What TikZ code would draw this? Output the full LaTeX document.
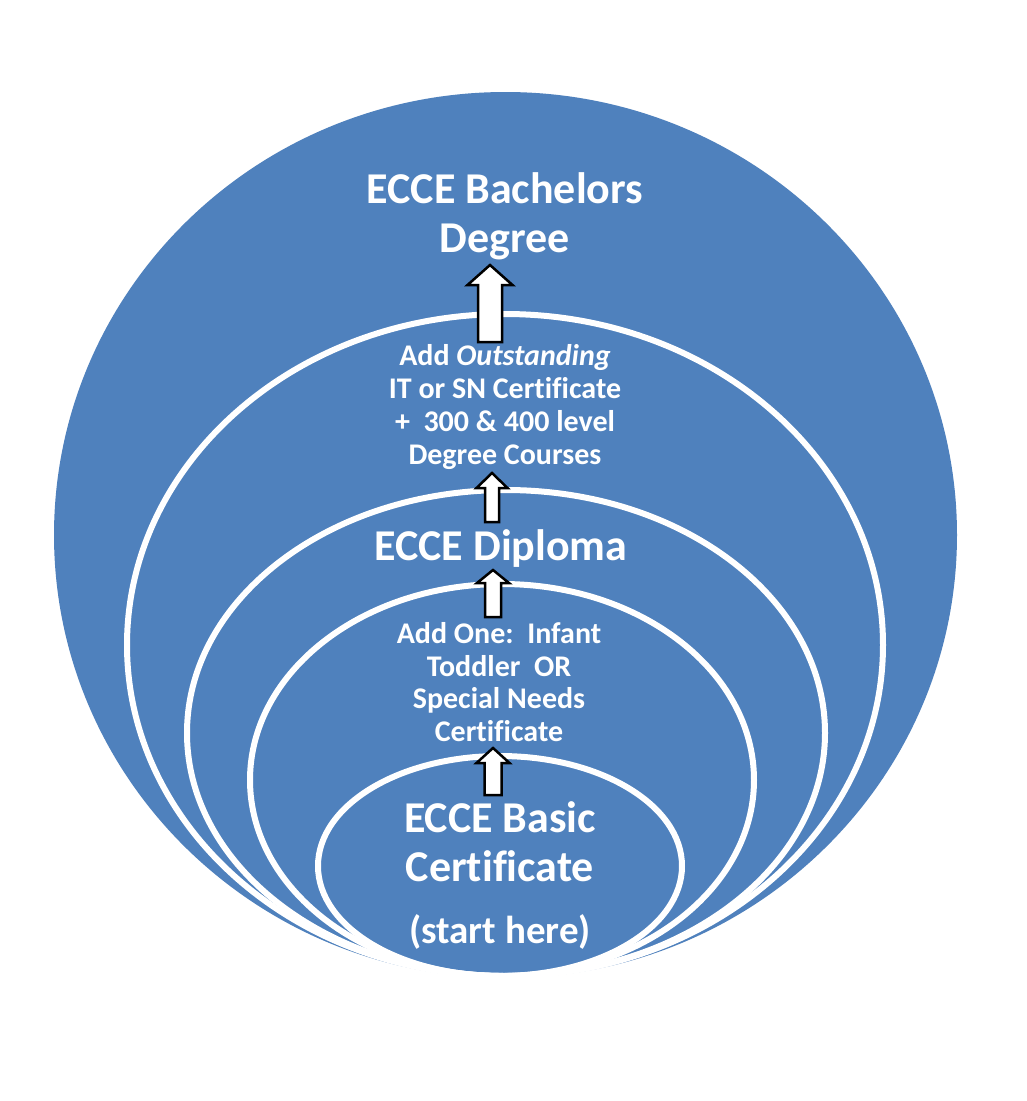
\documentclass[tikz,border=0pt]{standalone}
\usepackage{fontspec}
\setmainfont{Carlito}[Ligatures=NoCommon]
\definecolor{offblue}{RGB}{79,129,189}
\newcommand{\blkarrow}[6]{%
  \draw[blockarr] (#1,#2) -- (#1+#6,#3) -- (#1+#5,#3) -- (#1+#5,#4) -- (#1-#5,#4) -- (#1-#5,#3) -- (#1-#6,#3) -- cycle;}
\tikzset{
  ring/.style={draw=white, line width=6pt},
  blockarr/.style={draw=black, fill=white, line width=2.5pt, line join=miter},
  bigtxt/.style={text=white, align=center, inner sep=0pt, font=\fontsize{44}{49}\selectfont\bfseries},
  smalltxt/.style={text=white, align=center, inner sep=0pt, font=\fontsize{30}{32.7}\selectfont\bfseries}
}
\begin{document}
\begin{tikzpicture}[x=1pt, y=-1pt]
\useasboundingbox (0,0) rectangle (1027,1101);
\fill[white] (0,0) rectangle (1027,1101);
% outer disc
\fill[offblue] (505.5,535) ellipse [x radius=451.5pt, y radius=443pt];
% nested rings
\draw[ring] (505,645) ellipse [x radius=378pt, y radius=331pt];
\draw[ring] (506,733) ellipse [x radius=319pt, y radius=243pt];
\draw[ring] (502,780) ellipse [x radius=252pt, y radius=196pt];
\draw[ring] (500,866) ellipse [x radius=182pt, y radius=110pt];
% texts
\node[bigtxt] (bach) at (505,216) {ECCE Bachelors\\Degree};
\node[smalltxt] (outst) at (505,407) {Add \textit{Outstanding}\\IT or SN Certificate\\+\ \ 300 \& 400 level\\Degree Courses};
\node[bigtxt] (dipl) at (501,549) {ECCE Diploma};
\node[smalltxt] (addone) at (499,682) {Add One:\ \ Infant\\Toddler\ \ OR\\Special Needs\\Certificate};
\node[bigtxt] (basic) at (500,876) {ECCE Basic\\Certificate\\[13pt]\fontsize{39}{44}\selectfont(start here)};
% block arrows
\blkarrow{490}{265}{285}{342}{12}{22.5}
\blkarrow{492}{473}{488}{522}{7}{15.5}
\blkarrow{493}{570}{583}{617}{8}{16}
\blkarrow{493}{748}{763}{795}{8.5}{16.5}
\end{tikzpicture}
\end{document}
